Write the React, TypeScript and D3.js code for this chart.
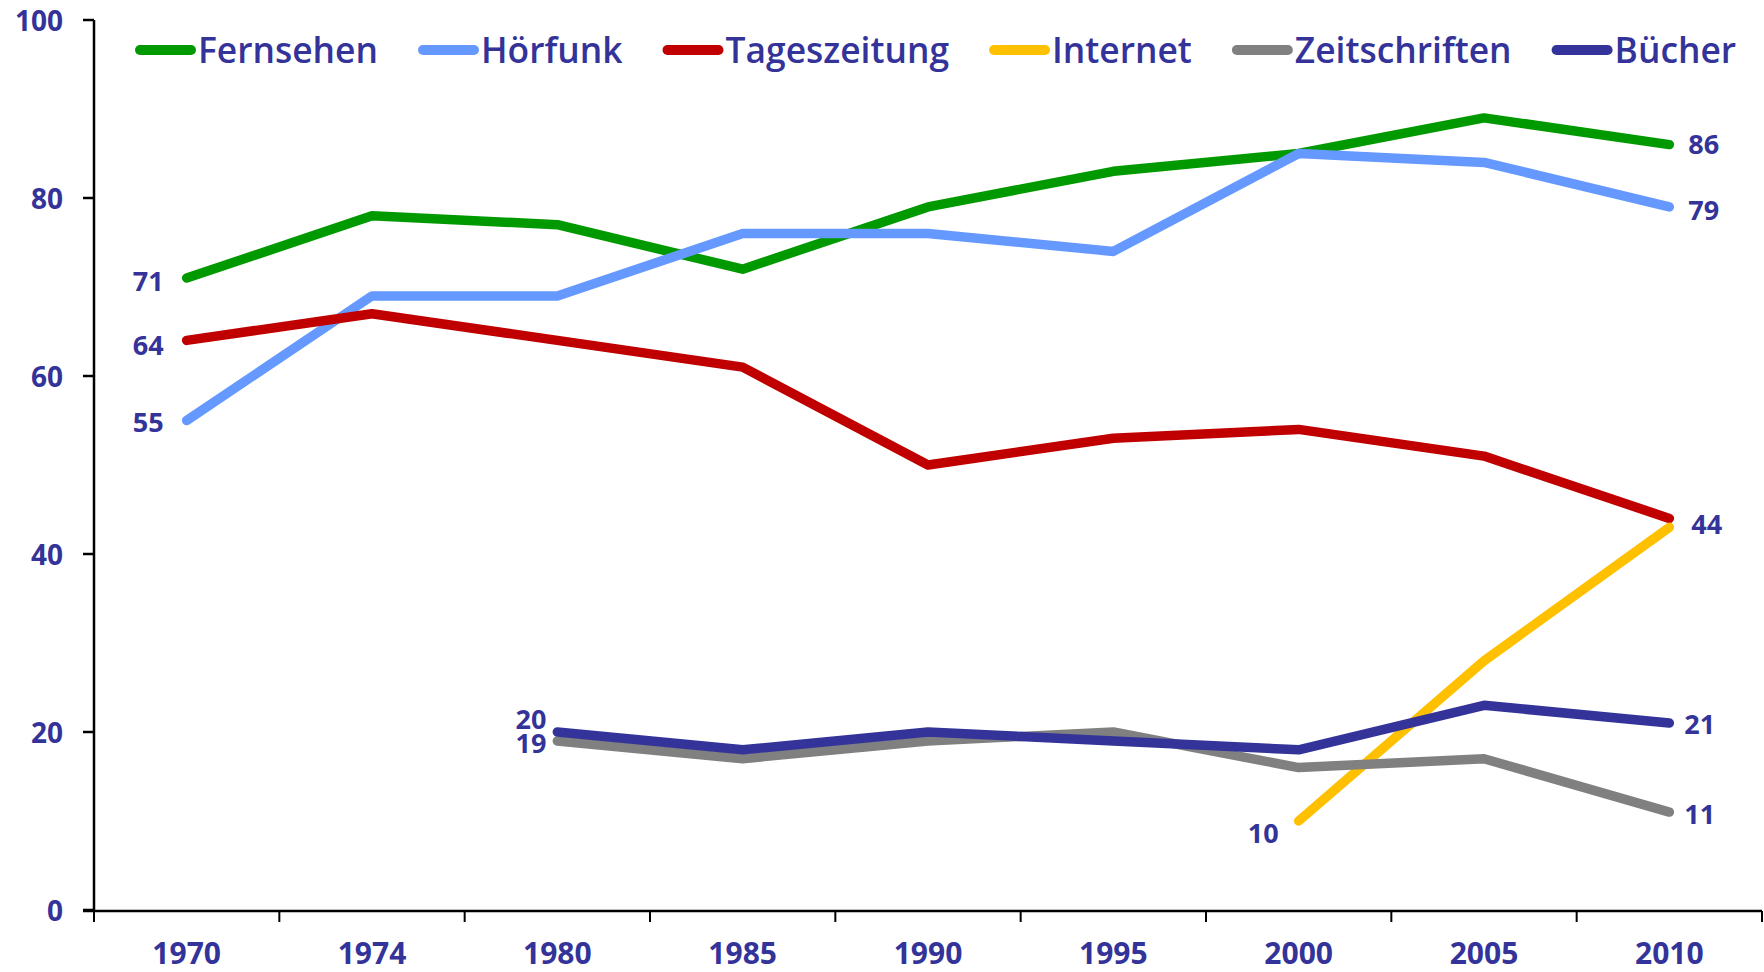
import React, { useEffect, useRef } from "react";
import * as d3 from "d3";

const years = ["1970", "1974", "1980", "1985", "1990", "1995", "2000", "2005", "2010"];
const seriesNames = ["Fernsehen", "Hörfunk", "Tageszeitung", "Internet", "Zeitschriften", "Bücher"];
const fernsehen = [71, 78, 77, 72, 79, 83, 85, 89, 86];
const hoerfunk = [55, 69, 69, 76, 76, 74, 85, 84, 79];
const tageszeitung = [64, 67, 64, 61, 50, 53, 54, 51, 44];
const internet = [null, null, null, null, null, null, 10, 28, 43];
const zeitschriften = [null, null, 19, 17, 19, 20, 16, 17, 11];
const buecher = [null, null, 20, 18, 20, 19, 18, 23, 21];
const seriesColors = ["#009900", "#6699FF", "#C00000", "#FFC000", "#808080", "#333399"];
const yTicks = [0, 20, 40, 60, 80, 100];

// data labels: [series index, year index, text, dx, dy, anchor]
const dataLabels: [number, number, string, number, number, string][] = [
  [0, 0, "71", -23, 2, "end"],
  [2, 0, "64", -23, 4, "end"],
  [1, 0, "55", -23, 1, "end"],
  [0, 8, "86", 19, -1, "start"],
  [1, 8, "79", 19, 3, "start"],
  [2, 8, "44", 22, 5, "start"],
  [5, 2, "20", -11, -14, "end"],
  [4, 2, "19", -11, 2, "end"],
  [3, 6, "10", -20, 11, "end"],
  [5, 8, "21", 15, 0, "start"],
  [4, 8, "11", 15, 1, "start"],
];

const W = 1764;
const H = 972;
const TEXT = "#333399";

export default function App() {
  const ref = useRef<SVGSVGElement | null>(null);

  useEffect(() => {
    document.body.style.margin = "0";
    const svg = d3.select(ref.current);
    svg.selectAll("*").remove();

    const left = 94, right = 1762, top = 20, bottom = 910;
    const x = d3.scaleBand<string>().domain(years).range([left, right]).paddingInner(0).paddingOuter(0);
    const y = d3.scaleLinear().domain([0, 100]).range([bottom, top]);
    const cx = (i: number) => (x(years[i]) as number) + x.bandwidth() / 2;

    const allSeries = [fernsehen, hoerfunk, tageszeitung, internet, zeitschriften, buecher];

    // axes
    const axisG = svg.append("g");
    axisG.append("line").attr("x1", left).attr("x2", left).attr("y1", top).attr("y2", bottom + 1)
      .attr("stroke", "#000").attr("stroke-width", 2.5);
    axisG.append("line").attr("x1", left - 11).attr("x2", right).attr("y1", bottom + 1).attr("y2", bottom + 1)
      .attr("stroke", "#000").attr("stroke-width", 2.5);
    yTicks.forEach((t) => {
      axisG.append("line").attr("x1", left - 11).attr("x2", left).attr("y1", y(t)).attr("y2", y(t))
        .attr("stroke", "#000").attr("stroke-width", 2.5);
      axisG.append("text").attr("x", 63).attr("y", y(t)).attr("text-anchor", "end")
        .attr("dominant-baseline", "central")
        .attr("font-family", "'Open Sans', sans-serif").attr("font-weight", 700).attr("font-size", 28)
        .attr("fill", TEXT).text(String(t));
    });
    const bounds = years.map((yr) => x(yr) as number).concat([right]);
    bounds.forEach((b) => {
      axisG.append("line").attr("x1", b).attr("x2", b).attr("y1", bottom + 1).attr("y2", bottom + 12)
        .attr("stroke", "#000").attr("stroke-width", 2);
    });
    years.forEach((yr, i) => {
      axisG.append("text").attr("x", cx(i)).attr("y", 964).attr("text-anchor", "middle")
        .attr("font-family", "'Open Sans', sans-serif").attr("font-weight", 700).attr("font-size", 30)
        .attr("fill", TEXT).text(yr);
    });

    // lines
    const line = d3.line<number | null>()
      .defined((d) => d !== null)
      .x((_, i) => cx(i))
      .y((d) => y(d as number));
    allSeries.forEach((s, k) => {
      svg.append("path").datum(s as (number | null)[]).attr("d", line as any)
        .attr("fill", "none").attr("stroke", seriesColors[k]).attr("stroke-width", 9.5)
        .attr("stroke-linecap", "round").attr("stroke-linejoin", "round");
    });

    // data labels
    dataLabels.forEach(([si, yi, txt, dx, dy, anchor]) => {
      const v = allSeries[si][yi] as number;
      svg.append("text").attr("x", cx(yi) + dx).attr("y", y(v) + dy)
        .attr("text-anchor", anchor).attr("dominant-baseline", "central")
        .attr("font-family", "'Open Sans', sans-serif").attr("font-weight", 700).attr("font-size", 27)
        .attr("fill", TEXT).text(txt);
    });

    // legend
    let lx = 135;
    const ly = 50;
    seriesNames.forEach((name, k) => {
      svg.append("line").attr("x1", lx + 5).attr("x2", lx + 56).attr("y1", ly).attr("y2", ly)
        .attr("stroke", seriesColors[k]).attr("stroke-width", 10).attr("stroke-linecap", "round");
      const t = svg.append("text").attr("x", lx + 63).attr("y", 63)
        .attr("font-family", "'Open Sans', sans-serif").attr("font-size", 35.4).attr("font-weight", 600)
        .attr("fill", TEXT).text(name);
      const w = (t.node() as SVGTextElement).getComputedTextLength();
      lx = lx + 63 + w + 40;
    });
  }, []);

  return <svg ref={ref} width={W} height={H} style={{ display: "block", background: "#fff" }} />;
}
